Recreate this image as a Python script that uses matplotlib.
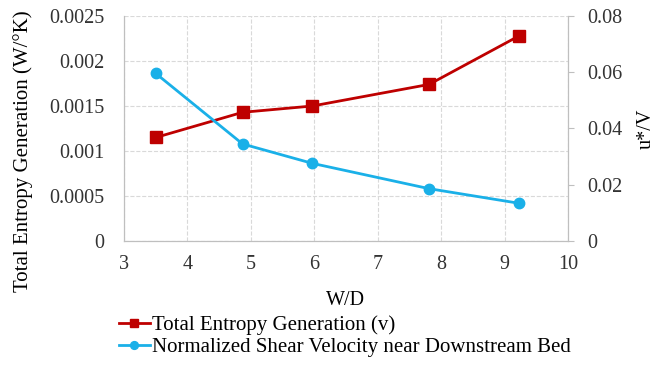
import numpy as np
import matplotlib.pyplot as plt

plt.rcParams['font.family'] = ['Liberation Serif', 'DejaVu Serif']

# data
wd = [3.5, 4.87, 5.97, 7.81, 9.23]
entropy = [0.00115, 0.00143, 0.00150, 0.00174, 0.00228]
shear = [0.0596, 0.0345, 0.0276, 0.0186, 0.0134]

red = '#BE0000'
blue = '#1AB0E8'
grid_c = '#D9D9D9'
spine_c = '#BFBFBF'

fig = plt.figure(figsize=(6.57, 3.73), dpi=100)
ax = fig.add_axes([0.1887, 0.354, 0.6758, 0.603])
ax2 = ax.twinx()

l1, = ax.plot(wd, entropy, color=red, lw=2, marker='s', ms=8,
              label='Total Entropy Generation (v)', zorder=3)
l2, = ax2.plot(wd, shear, color=blue, lw=2, marker='o', ms=7.5,
               label='Normalized Shear Velocity near Downstream Bed', zorder=3)

ax.set_xlim(3, 10)
ax.set_ylim(0, 0.0025)
ax2.set_ylim(0, 0.08)
ax.set_xticks(range(3, 11))
ax.set_yticks([0, 0.0005, 0.001, 0.0015, 0.002, 0.0025])
ax.set_yticklabels(['0', '0.0005', '0.001', '0.0015', '0.002', '0.0025'])
ax2.set_yticks([0, 0.02, 0.04, 0.06, 0.08])
ax2.set_yticklabels(['0', '0.02', '0.04', '0.06', '0.08'])

ax.grid(True, ls='--', color=grid_c, lw=0.8)
ax.set_axisbelow(True)

for a in (ax, ax2):
    a.spines['top'].set_visible(False)
    for s in ('left', 'right', 'bottom'):
        a.spines[s].set_color(spine_c)
    a.tick_params(labelsize=14.5, colors='#333333', length=0)
ax.tick_params(axis='y', pad=14)
ax2.tick_params(axis='y', length=4, color=spine_c, pad=10)
ax.tick_params(axis='x', pad=10)

ax.set_xlabel('W/D', fontsize=14.5, labelpad=12)
ax.set_ylabel('Total Entropy Generation (W/°K)', fontsize=15)
ax.yaxis.set_label_coords(-0.205, 0.40)
ax2.set_ylabel('u*/V', fontsize=14.5)
ax2.yaxis.set_label_coords(1.155, 0.5)

fig.legend(handles=[l1, l2], loc='upper left', bbox_to_anchor=(0.165, 0.182),
           frameon=False, fontsize=15, handlelength=1.5, handletextpad=0.1,
           labelspacing=0.1, borderpad=0, markerscale=0.75)

fig.savefig('out.png', dpi=100)
